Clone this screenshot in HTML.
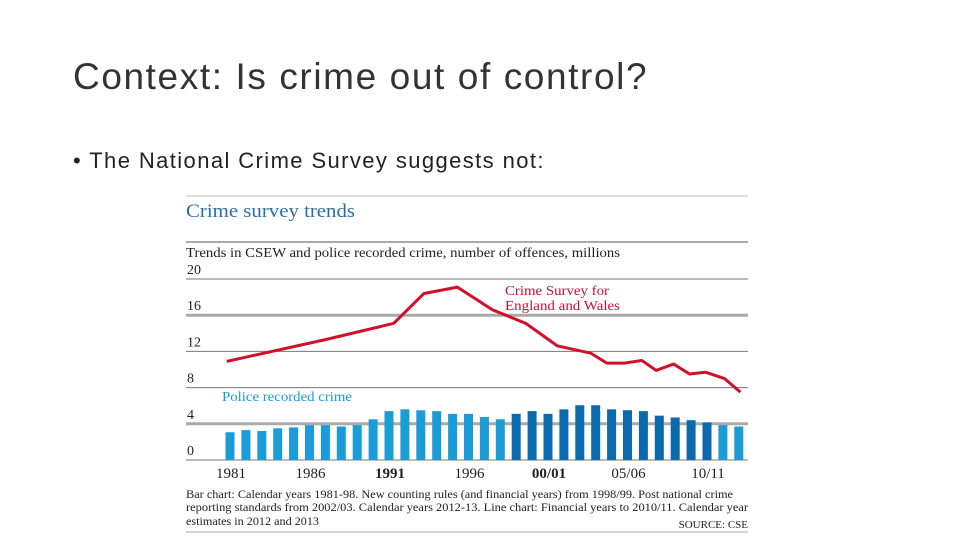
<!DOCTYPE html>
<html><head><meta charset="utf-8"><style>
body{margin:0;background:#fff;width:960px;height:540px;overflow:hidden;position:relative;font-family:"Liberation Sans",sans-serif}
.t{position:absolute;white-space:nowrap}
</style></head><body>
<div class="t" style="left:73px;top:56px;font-size:37px;color:#333;letter-spacing:1.6px">Context: Is crime out of control?</div>
<div class="t" style="left:73px;top:148px;font-size:22px;color:#222;letter-spacing:1.4px">• The National Crime Survey suggests not:</div>
<svg width="960" height="540" style="position:absolute;left:0;top:0" font-family="Liberation Serif, serif">
<line x1="186" x2="748" y1="196" y2="196" stroke="#bbb"/>
<text x="186" y="217" font-size="19" fill="#2a6ea8" textLength="169" lengthAdjust="spacingAndGlyphs">Crime survey trends</text>
<line x1="186" x2="748" y1="242" y2="242" stroke="#aaa" stroke-width="2"/>
<text x="186" y="257" font-size="14" fill="#222" textLength="434" lengthAdjust="spacingAndGlyphs">Trends in CSEW and police recorded crime, number of offences, millions</text>
<g id="grid"></g><g id="bars"></g><g id="line"></g><g id="xl"></g>
<text x="505" y="295" font-size="13.5" fill="#c8102e" textLength="104" lengthAdjust="spacingAndGlyphs">Crime Survey for</text>
<text x="505" y="310" font-size="13.5" fill="#c8102e" textLength="115" lengthAdjust="spacingAndGlyphs">England and Wales</text>
<text x="222" y="401" font-size="13.5" fill="#1a9ad6" textLength="130" lengthAdjust="spacingAndGlyphs">Police recorded crime</text>
<text x="186" y="498" font-size="11.3" fill="#222" textLength="547" lengthAdjust="spacingAndGlyphs">Bar chart:  Calendar years 1981-98. New counting rules (and financial years) from 1998/99. Post national crime</text>
<text x="186" y="511" font-size="11.3" fill="#222" textLength="562" lengthAdjust="spacingAndGlyphs">reporting standards from 2002/03. Calendar years 2012-13.   Line chart:  Financial years to 2010/11. Calendar year</text>
<text x="186" y="525" font-size="11.3" fill="#222" textLength="133" lengthAdjust="spacingAndGlyphs">estimates in 2012 and 2013</text>
<text x="748" y="528" font-size="11" fill="#222" text-anchor="end">SOURCE: CSE</text>
<line x1="186" x2="748" y1="532" y2="532" stroke="#aaa"/>
</svg>
<script>
const yTicks=[0,4,8,12,16,20];
const barValues=[3.07,3.3,3.2,3.5,3.6,3.85,3.85,3.7,3.85,4.5,5.4,5.6,5.5,5.4,5.1,5.1,4.75,4.5,5.1,5.4,5.1,5.6,6.05,6.05,5.6,5.5,5.4,4.9,4.7,4.4,4.15,3.85,3.7];
const barDark=[0,0,0,0,0,0,0,0,0,0,0,0,0,0,0,0,0,0,1,1,1,1,1,1,1,1,1,1,1,1,1,0,0];
const lineIdx=[-0.2,6,10.3,12.2,14.3,16.5,18.6,20.6,22.7,23.7,24.8,25.9,26.8,27.9,28.9,29.9,31.1,32.1];
const lineValues=[10.9,13.3,15.1,18.4,19.1,16.6,15.1,12.6,11.8,10.7,10.7,11.0,9.9,10.6,9.5,9.7,9.0,7.5];
const xLabels=["1981","1986","1991","1996","00/01","05/06","10/11"];
const xLabelIdx=[0,5,10,15,20,25,30];
const NS="http://www.w3.org/2000/svg";
const Y=v=>460-9.05*v, X=i=>230+i*15.9;
function mk(t,a,p){const e=document.createElementNS(NS,t);for(const k in a)e.setAttribute(k,a[k]);p.appendChild(e);return e;}
const g=document.getElementById('grid');
yTicks.forEach(v=>{
 const l=mk('line',{x1:186,x2:748,y1:Y(v),y2:Y(v),stroke:(v==16||v==4)?'#aaa':'#777','stroke-width':(v==16||v==4)?3:1},g);
 
 
 const t=mk('text',{x:187,y:Y(v)-5,'font-size':14,fill:'#222'},g);t.textContent=v;
 
 
});
const b=document.getElementById('bars');
barValues.forEach((v,i)=>{
 const r=mk('rect',{x:X(i)-4.5,y:Y(v),width:9,height:Y(0)-Y(v),fill:barDark[i]?'#0b69ad':'#1b9bd8'},b);
 
 
});
const p=mk('polyline',{points:lineIdx.map((x,i)=>X(x)+','+Y(lineValues[i])).join(' '),fill:'none',stroke:'#d0112b','stroke-width':3,'stroke-linejoin':'round'},document.getElementById('line'));


const xl=document.getElementById('xl');
xLabels.forEach((s,i)=>{
 const t=mk('text',{x:X(xLabelIdx[i])+1,y:478,'font-size':15,fill:'#222','text-anchor':'middle','font-weight':s=='1991'||s=='00/01'?'bold':'normal'},xl);t.textContent=s;
 
 
});
</script>
</body></html>
